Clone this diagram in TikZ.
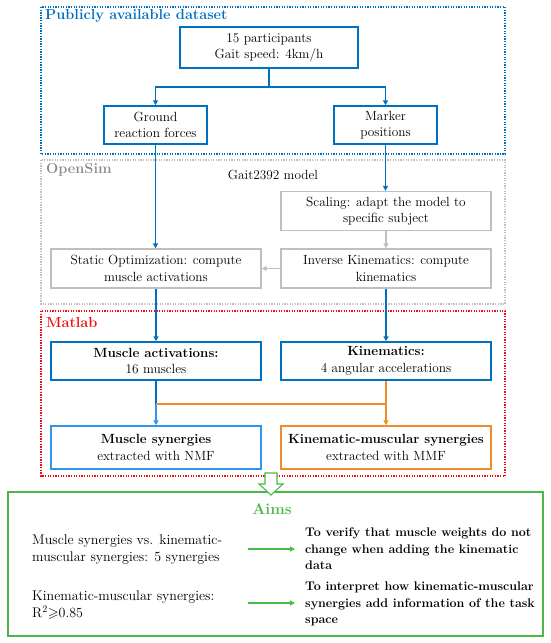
\documentclass[tikz,border=0pt]{standalone}
\usepackage{amssymb}
\usetikzlibrary{arrows.meta}
\definecolor{cblue}{HTML}{0070C0}
\definecolor{clblue}{HTML}{2E95F0}
\definecolor{cgray}{HTML}{BFBFBF}
\definecolor{cdgray}{HTML}{8C8C8C}
\definecolor{cred}{HTML}{F01010}
\definecolor{corange}{HTML}{F28C28}
\definecolor{cgreen}{HTML}{4CB848}
\begin{document}
\begin{tikzpicture}[x=1pt,y=-1pt,font=\fontsize{13.3}{16.5}\selectfont,
  tip/.style={-{Triangle[length=5pt,width=5pt]}},
  bbox/.style={draw=cblue,line width=1.5pt,fill=white,align=center,inner sep=1pt,minimum width=210,minimum height=38},
  gbox/.style={draw=cgray,line width=1.3pt,fill=white,align=center,inner sep=1pt,minimum width=210,minimum height=39},
  bline/.style={draw=cblue,line width=1.3pt},
  lbline/.style={draw=clblue,line width=1.3pt},
  gline/.style={draw=cgray,line width=1.3pt},
  oline/.style={draw=corange,line width=1.3pt},
  grline/.style={draw=cgreen,line width=1.3pt},
  frame/.style={line width=1.3pt,dash pattern=on 1.3pt off 1.3pt},
  ftitle/.style={anchor=west,font=\fontsize{14.5}{16}\selectfont\bfseries,inner sep=0pt},
  aimtext/.style={anchor=west,align=left,inner sep=0pt,font=\fontsize{14}{17}\selectfont},
  aimbold/.style={anchor=west,align=left,inner sep=0pt,font=\fontsize{12.5}{16.5}\selectfont\bfseries}]
\useasboundingbox (0,0) rectangle (550,643);
% frames
\draw[frame,draw=cblue] (41,7) rectangle (505,154);
\node[ftitle,text=cblue] (t1) at (45,16) {Publicly available dataset};
\draw[frame,draw=cgray] (41,160) rectangle (505,304);
\node[ftitle,text=cdgray] (t2) at (46,170) {OpenSim};
\draw[frame,draw=cred] (41,311) rectangle (505,476);
\node[ftitle,text=cred] (t3) at (46,323) {Matlab};
% nodes
\node[bbox,minimum width=178,minimum height=41] (top) at (269,47.5) {15 participants\\Gait speed: 4km/h};
\node[bbox,minimum width=103] (grf) at (155.5,125) {Ground\\reaction forces};
\node[bbox,minimum width=103] (mk) at (385.5,125) {Marker\\positions};
\node[inner sep=0pt] (gait) at (273,175) {Gait2392 model};
\node[gbox] (scal) at (386,211) {Scaling: adapt the model to\\specific subject};
\node[gbox] (ik) at (386,268.5) {Inverse Kinematics: compute\\kinematics};
\node[gbox] (so) at (156,268.5) {Static Optimization: compute\\muscle activations};
\node[bbox] (ma) at (156,361) {\textbf{Muscle activations:}\\16 muscles};
\node[bbox] (kin) at (386,361) {\textbf{Kinematics:}\\4 angular accelerations};
\node[bbox,draw=clblue,minimum height=43] (ms) at (156,447.5) {\textbf{Muscle synergies}\\extracted with NMF};
\node[bbox,draw=corange,minimum height=43] (kms) at (386,447.5) {\textbf{Kinematic-muscular synergies}\\extracted with MMF};
% connectors
\coordinate (j1) at (269,87);
\draw[bline] (top.south) -- (j1);
\draw[bline,tip] (j1) -| (grf.north);
\draw[bline,tip] (j1) -| (mk.north);
\draw[bline,tip] (grf.south) -- (grf.south |- so.north);
\draw[bline,tip] (mk.south) -- (mk.south |- scal.north);
\draw[gline,tip] (scal) -- (ik);
\draw[gline,tip] (ik) -- (so);
\draw[bline,tip] (so) -- (ma);
\draw[bline,tip] (ik) -- (kin);
\coordinate (j2) at (156,404);
\coordinate (j3) at (386,404);
\draw[bline] (ma.south) -- (j2);
\draw[lbline,tip] (j2) -- (ms.north);
\draw[oline] (j2) -- (j3);
\draw[oline,tip] (kin) -- (kms);
% aims
\draw[draw=cgreen,line width=1.5pt] (8,492) rectangle (543,636);
\draw[draw=cgreen,line width=1.1pt,fill=white] (265,473) -- (277,473) -- (277,484) -- (283,484) -- (271,495) -- (259,484) -- (265,484) -- cycle;
\node[text=cgreen,font=\fontsize{15.5}{17}\selectfont\bfseries] (aims) at (272,509) {Aims};
\node[aimtext] (l1) at (32,549.5) {Muscle synergies vs. kinematic-\\muscular synergies: 5 synergies};
\node[aimtext] (l2) at (32,605) {Kinematic-muscular synergies:\\R$^2$$\geqslant$0.85};
\node[aimbold] (r1) at (305,549) {To verify that muscle weights do not\\change when adding the kinematic\\data};
\node[aimbold] (r2) at (305,604) {To interpret how kinematic-muscular\\synergies add information of the task\\space};
\coordinate (a1) at (248,549);
\coordinate (b1) at (295,549);
\coordinate (a2) at (248,603);
\coordinate (b2) at (295,603);
\draw[grline,tip] (a1) -- (b1);
\draw[grline,tip] (a2) -- (b2);
\end{tikzpicture}
\end{document}
